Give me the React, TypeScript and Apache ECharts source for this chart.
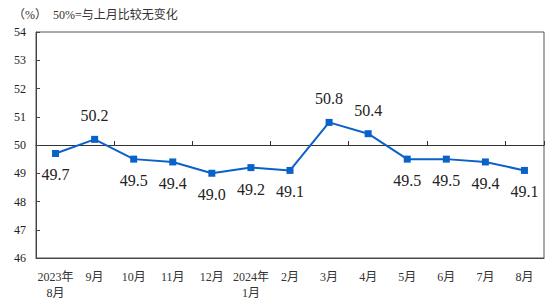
import React, { useEffect, useRef } from "react";
import * as echarts from "echarts";

const categories = ["2023年\n8月", "9月", "10月", "11月", "12月", "2024年\n1月", "2月", "3月", "4月", "5月", "6月", "7月", "8月"];
const values = [49.7, 50.2, 49.5, 49.4, 49.0, 49.2, 49.1, 50.8, 50.4, 49.5, 49.5, 49.4, 49.1];
const yTicks = [46, 47, 48, 49, 50, 51, 52, 53, 54];
const baseline = 50;
const titleText = "（%）  50%=与上月比较无变化";

export default function App() {
  const ref = useRef<HTMLDivElement>(null);
  useEffect(() => {
    document.body.style.margin = "0";
    const chart = echarts.init(ref.current!, null, { renderer: "svg" });
    const serif = "'Liberation Serif', 'Noto Sans CJK SC', serif";
    chart.setOption({
      animation: false,
      backgroundColor: "#ffffff",
      title: {
        text: titleText,
        left: 8,
        top: 4,
        textStyle: { fontSize: 12, fontWeight: "normal", color: "#333", fontFamily: serif },
      },
      grid: {
        left: 36,
        right: 15,
        top: 32,
        bottom: 47,
        show: true,
        borderColor: "#555",
        borderWidth: 1,
        backgroundColor: "transparent",
      },
      xAxis: [
        {
          type: "category",
          data: categories,
          boundaryGap: true,
          axisLine: { show: true, lineStyle: { color: "#444", width: 1 } },
          axisTick: { show: false },
          axisLabel: { color: "#333", fontSize: 12, fontFamily: serif, margin: 11, lineHeight: 16, interval: 0 },
          splitLine: { show: false },
        },
        {
          type: "category",
          data: categories,
          position: "bottom",
          offset: -113,
          boundaryGap: true,
          axisLine: { show: true, lineStyle: { color: "#333", width: 1.2 } },
          axisTick: { show: true, inside: true, length: 4, lineStyle: { color: "#333" } },
          axisLabel: { show: false },
          splitLine: { show: false },
        },
      ],
      yAxis: {
        type: "value",
        min: yTicks[0],
        max: yTicks[yTicks.length - 1],
        interval: 1,
        axisLine: { show: true, lineStyle: { color: "#444" } },
        axisTick: { show: true, inside: true, length: 4, lineStyle: { color: "#444" } },
        axisLabel: { color: "#222", fontSize: 12, fontFamily: serif, margin: 10 },
        splitLine: { show: false },
      },
      series: [
        {
          type: "line",
          data: values.map((v) => ({
            value: v,
            label: {
              position: v > baseline ? "top" : "bottom",
              distance: v > baseline ? 12 : 10,
            },
          })),
          symbol: "rect",
          symbolSize: 7,
          lineStyle: { color: "#0a62c9", width: 2 },
          itemStyle: { color: "#0a62c9" },
          label: {
            show: true,
            color: "#222",
            fontSize: 16,
            fontFamily: serif,
            formatter: (p: any) => Number(p.value).toFixed(1),
          },
        },
      ],
    });
    return () => chart.dispose();
  }, []);
  return <div ref={ref} style={{ position: "fixed", left: 0, top: 0, width: 559, height: 305 }} />;
}
